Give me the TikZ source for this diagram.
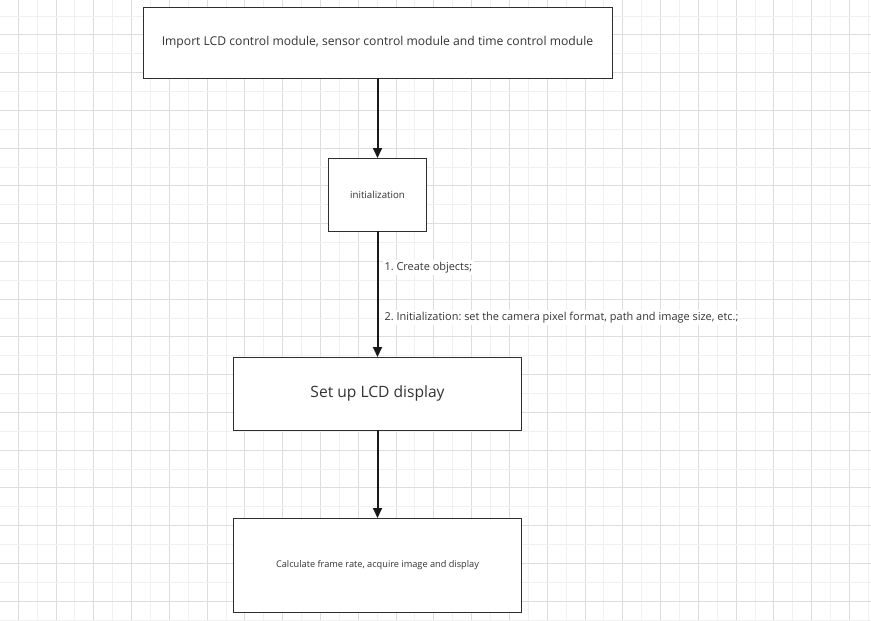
\documentclass[tikz,border=0pt]{standalone}
\usepackage{fontspec}
\setmainfont{Open Sans}
\usepackage{tikz}
\usetikzlibrary{arrows.meta}
\usetikzlibrary{positioning}
\frenchspacing
\definecolor{gridlight}{HTML}{F0F0F0}
\definecolor{griddark}{HTML}{DDDDDD}
\definecolor{boxline}{HTML}{2E2E2E}
\definecolor{textgray}{HTML}{333333}
\tikzstyle{flowbox} = [
    draw=boxline,
    line width=1pt,
    fill=white,
    outer sep=0pt,
    text=textgray
]
\tikzstyle{flowarrow} = [
    line width=2pt,
    draw=black!90,
    -{Triangle[width=9pt,length=10pt]}
]
\tikzstyle{steplabel} = [
    anchor=west,
    fill=white,
    text=textgray,
    inner sep=2pt,
    xshift=4pt,
    font=\fontsize{10.95}{13}\selectfont
]

\begin{document}
\begin{tikzpicture}[x=1pt,y=-1pt]

\useasboundingbox (0,0) rectangle (871,621);
\fill[white] (0,0) rectangle (871,621);

% grid
\foreach \k in {0,...,45} {
    \ifodd\k \def\gc{gridlight}\else \def\gc{griddark}\fi
    \draw[draw=\gc, line width=1pt] ({18.3+\k*18.89},0) -- ({18.3+\k*18.89},621);
}
\foreach \k in {0,...,32} {
    \ifodd\k \def\gc{griddark}\else \def\gc{gridlight}\fi
    \draw[draw=\gc, line width=1pt] (0,{16+\k*18.875}) -- (871,{16+\k*18.875});
}

\node [flowbox,
    minimum width=469pt,
    minimum height=71pt,
    font=\fontsize{12.15}{14}\selectfont
] (import) at (377.5,42.5) {Import LCD control module, sensor control module and time control module};

\node [flowbox,
    minimum width=98pt,
    minimum height=73pt,
    font=\fontsize{9.7}{11}\selectfont,
    below=80pt of import
] (init) {initialization};

\node [flowbox,
    minimum width=288pt,
    minimum height=73pt,
    font=\fontsize{15.6}{18}\selectfont,
    below=126pt of init
] (lcd) {Set up LCD display};

\node [flowbox,
    minimum width=288pt,
    minimum height=94pt,
    font=\fontsize{9.2}{11}\selectfont,
    below=88pt of lcd
] (acquire) {Calculate frame rate, acquire image and display};

\draw[flowarrow] (import) -- (init);
\draw[flowarrow] (init) -- (lcd)
    node[steplabel, pos=0.29] {1. Create objects;}
    node[steplabel, pos=0.69] {2. Initialization: set the camera pixel format, path and image size, etc.;};
\draw[flowarrow] (lcd) -- (acquire);

\end{tikzpicture}
\end{document}
